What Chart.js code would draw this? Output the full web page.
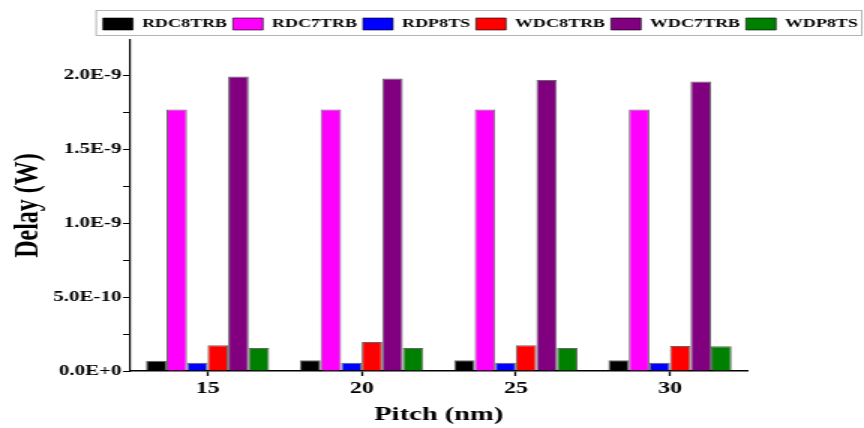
<!DOCTYPE html>
<html>
<head>
<meta charset="utf-8">
<script src="https://cdn.jsdelivr.net/npm/chart.js@4"></script>
<style>
  html, body { margin: 0; padding: 0; background: #fff; }
</style>
</head>
<body>
<!-- the reference figure is stretched sideways, so the canvas is drawn narrow and widened -->
<canvas id="chart" width="576" height="428" style="display:block;width:864px;height:428px"></canvas>
<script>
// Data
const pitches = ["15", "20", "25", "30"];
const rdc8trb = [7.0e-11, 7.2e-11, 7.2e-11, 7.2e-11];
const rdc7trb = [1.77e-9, 1.77e-9, 1.77e-9, 1.77e-9];
const rdp8ts = [5.6e-11, 5.6e-11, 5.6e-11, 5.6e-11];
const wdc8trb = [1.74e-10, 1.97e-10, 1.74e-10, 1.69e-10];
const wdc7trb = [1.993e-9, 1.98e-9, 1.97e-9, 1.96e-9];
const wdp8ts = [1.56e-10, 1.56e-10, 1.56e-10, 1.67e-10];

const yMax = 2.24e-9;
const yStep = 2.5e-10;

const serif = "'Liberation Serif', 'Times New Roman', serif";

Chart.defaults.color = "#000";
Chart.defaults.font.family = serif;
Chart.defaults.font.weight = "bold";

function series(label, data, color) {
  return {
    label: label,
    data: data,
    backgroundColor: color,
    borderColor: "rgba(0, 0, 0, 0.6)",
    borderWidth: 1,
    categoryPercentage: 0.8,
    barPercentage: 1.0,
  };
}

function formatTick(v) {
  const k = Math.round(v / yStep);
  if (k % 2 !== 0) return "";
  return (k * yStep).toExponential(1).toUpperCase();
}

// box round the legend
const legendFrame = {
  id: "legendFrame",
  afterDraw(chart) {
    const boxes = chart.legend?.legendHitBoxes;
    if (!boxes?.length) return;
    const left = Math.min(...boxes.map((b) => b.left)) - 5;
    const right = Math.max(...boxes.map((b) => b.left + b.width)) + 2;
    const top = Math.min(...boxes.map((b) => b.top)) - 8;
    const bottom = Math.max(...boxes.map((b) => b.top + b.height)) + 5;
    const ctx = chart.ctx;
    ctx.save();
    ctx.strokeStyle = "#b4b4b4";
    ctx.lineWidth = 1;
    ctx.strokeRect(left + 0.5, Math.round(top) + 0.5, right - left, Math.round(bottom - top));
    ctx.restore();
  },
};

new Chart(document.getElementById("chart"), {
  type: "bar",
  data: {
    labels: pitches,
    datasets: [
      series("RDC8TRB", rdc8trb, "#000000"),
      series("RDC7TRB", rdc7trb, "#ff00ff"),
      series("RDP8TS", rdp8ts, "#0000ff"),
      series("WDC8TRB", wdc8trb, "#ff0000"),
      series("WDC7TRB", wdc7trb, "#800080"),
      series("WDP8TS", wdp8ts, "#008000"),
    ],
  },
  options: {
    responsive: false,
    devicePixelRatio: 1,
    animation: false,
    layout: { padding: { top: 14, left: 4, right: 0, bottom: 2 } },
    plugins: {
      legend: {
        position: "top",
        align: "end",
        labels: {
          boxWidth: 20,
          boxHeight: 12,
          padding: 4,
          font: { size: 12, weight: "bold", family: serif },
        },
      },
      tooltip: { enabled: false },
    },
    scales: {
      x: {
        grid: {
          offset: false,
          drawOnChartArea: false,
          drawTicks: true,
          tickLength: 5,
          tickColor: "#000",
          tickWidth: 1.3,
        },
        border: { display: true, color: "#000", width: 1.6 },
        ticks: { padding: 3, font: { size: 16, weight: "bold" } },
        title: {
          display: true,
          text: "Pitch (nm)",
          font: { size: 19, weight: "bold" },
          padding: { top: 2, bottom: 0 },
        },
      },
      y: {
        min: 0,
        max: yMax,
        grid: {
          drawOnChartArea: false,
          drawTicks: true,
          tickLength: 5,
          tickColor: "#000",
          tickWidth: 1,
        },
        border: { display: true, color: "#000", width: 1.2 },
        ticks: {
          stepSize: yStep,
          includeBounds: false,
          autoSkip: false,
          padding: 1,
          font: { size: 14, weight: "bold" },
          callback: formatTick,
        },
        title: {
          display: true,
          text: "Delay (W)",
          font: { size: 24, weight: "bold" },
          padding: { top: 0, bottom: 2 },
        },
        afterFit: (scale) => {
          scale.width = 83;
        },
      },
      yRight: {
        position: "right",
        display: true,
        grid: { display: false },
        border: { display: false },
        ticks: { display: false },
        afterFit: (scale) => {
          scale.width = 78;
        },
      },
    },
  },
  plugins: [legendFrame],
});
</script>
</body>
</html>
